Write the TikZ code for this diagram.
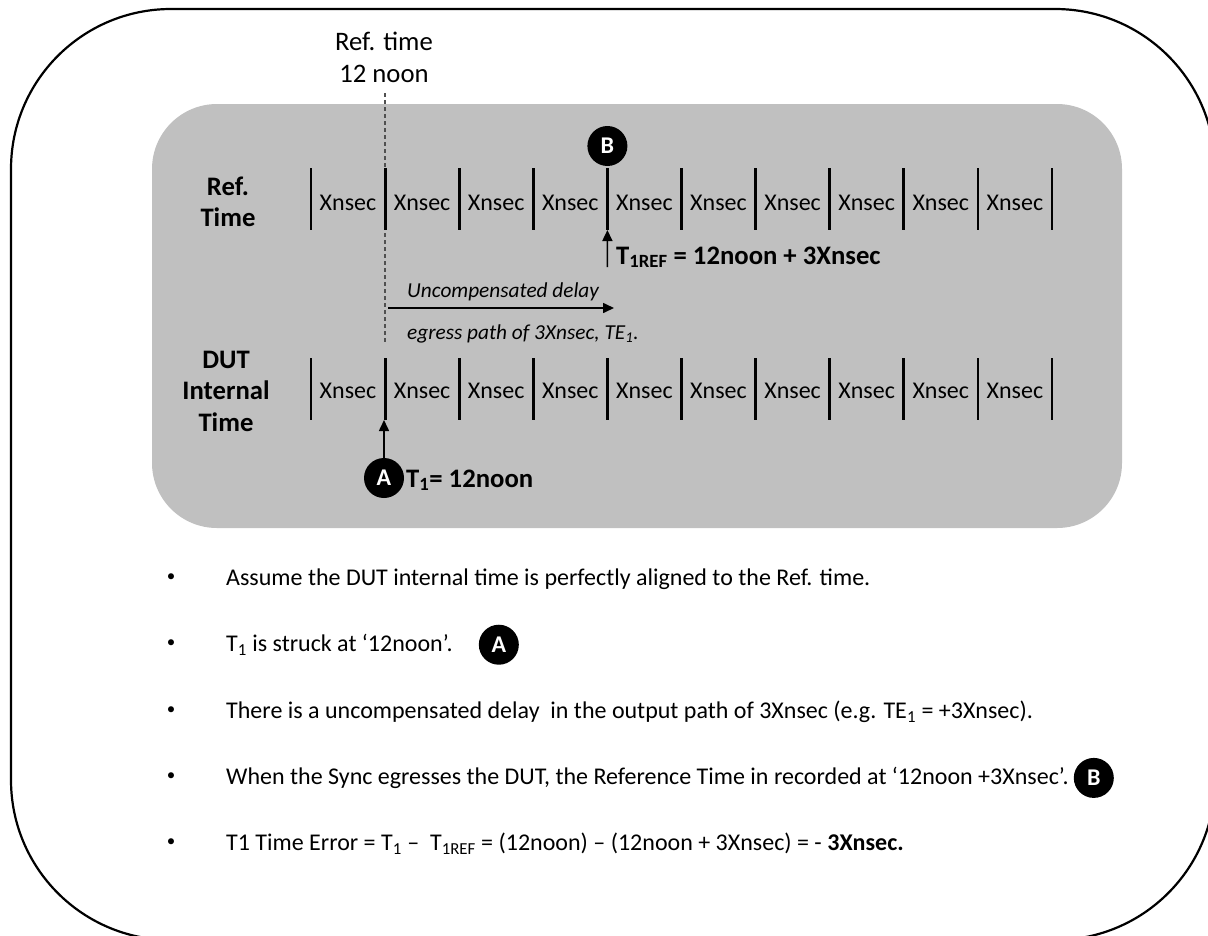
\documentclass[tikz,border=0pt]{standalone}
\usepackage{fontspec}
\setmainfont{Carlito}
\usetikzlibrary{arrows.meta}
\definecolor{panel}{RGB}{192,192,192}
\definecolor{dashgray}{RGB}{80,80,80}
\begin{document}
\begin{tikzpicture}[x=1pt,y=-1pt,
  tickline/.style={line width=2.8pt},
  pointer/.style={line width=1.6pt,-{Triangle[length=11pt,width=10pt]}},
  cell/.style={font=\fontsize{24}{29}\selectfont,inner sep=0pt},
  rowlabel/.style={font=\fontsize{26.7}{31.5}\selectfont\bfseries,align=center,inner sep=0pt},
  biglabel/.style={font=\fontsize{26.7}{32}\selectfont\bfseries,inner sep=0pt,anchor=base west},
  italabel/.style={font=\fontsize{21.3}{26}\selectfont\itshape,inner sep=0pt,anchor=base west},
  bodytext/.style={font=\fontsize{24}{29}\selectfont,inner sep=0pt,anchor=base west},
  bulletmark/.style={font=\fontsize{17}{20}\selectfont,inner sep=0pt},
  badge/.style={circle,fill=black,text=white,font=\fontsize{24}{29}\selectfont\bfseries,minimum size=40pt,inner sep=0pt},
  guide/.style={dashgray,line width=1.1pt,dash pattern=on 4pt off 3pt}]
\useasboundingbox (0,0) rectangle (1208,935);
% outer frame
\begin{scope}
  \clip (0,0) rectangle (1208,935);
  \draw[line width=2.2pt,rounded corners=160pt] (11,9) rectangle (1215,940);
\end{scope}
% grey panel
\fill[panel,rounded corners=65pt] (152,104) rectangle (1122,528);
% top label and guide line
\node[font=\fontsize{26.7}{32}\selectfont,align=center,inner sep=0pt] (reftime) at (384,57) {Ref. time\\12 noon};
\coordinate (gtop) at (385,93);
\coordinate (gbot) at (385,342);
\draw[guide] (gtop) -- (gbot);
% row labels
\node[rowlabel] (reflab) at (228,202) {Ref.\\Time};
\node[rowlabel] (dutlab) at (226,391) {DUT\\Internal\\Time};
% ticks and cells
\foreach \i in {0,...,10}{
  \pgfmathsetmacro{\xx}{311+74.1*\i}
  \coordinate (rt\i) at (\xx,168);
  \coordinate (rb\i) at (\xx,230);
  \coordinate (dt\i) at (\xx,358);
  \coordinate (db\i) at (\xx,420);
  \draw[tickline] (rt\i) -- (rb\i);
  \draw[tickline] (dt\i) -- (db\i);
}
\foreach \i in {0,...,9}{
  \pgfmathsetmacro{\xx}{311+74.1*\i+37}
  \node[cell] (rx\i) at (\xx,203) {Xnsec};
  \node[cell] (dx\i) at (\xx,391) {Xnsec};
}
% B marker and T1REF arrow
\node[badge] (B) at (607.4,146) {B};
\coordinate (t1refend) at (607.4,267);
\draw[pointer] (t1refend) -- (rb4);
\node[biglabel] (t1ref) at (616,264) {T\textsubscript{1REF} = 12noon + 3Xnsec};
% delay arrow
\coordinate (ds) at (388,308);
\coordinate (de) at (614,308);
\draw[pointer] (ds) -- (de);
\node[italabel] (delay1) at (407,297) {Uncompensated delay};
\node[italabel] (delay2) at (407,339) {egress path of 3Xnsec, TE\textsubscript{1}.};
% A marker
\node[badge] (A) at (384,478) {A};
\draw[pointer] (A.north) -- (A.north |- db1);
\node[biglabel] (t1lab) at (406,487) {T\textsubscript{1}= 12noon};
% bullets
\foreach \k/\yy in {1/578,2/644,3/711,4/777,5/843}{
  \node[bulletmark] (dot\k) at (171,\yy) {•};
}
\node[bodytext] (b1) at (226,585.5) {Assume the DUT internal time is perfectly aligned to the Ref. time.};
\node[bodytext] (b2) at (226,651.5) {T\textsubscript{1} is struck at ‘12noon’.};
\node[bodytext] (b3) at (226,718.5) {There is a uncompensated delay\ \ in the output path of 3Xnsec (e.g. TE\textsubscript{1} = +3Xnsec).};
\node[bodytext] (b4) at (226,784.5) {When the Sync egresses the DUT, the Reference Time in recorded at ‘12noon +3Xnsec’.};
\node[bodytext] (b5) at (226,850.5) {T1 Time Error = T\textsubscript{1} –\ \ T\textsubscript{1REF} = (12noon) – (12noon + 3Xnsec) = - \textbf{3Xnsec.}};
\node[badge] (A2) at ([xshift=46pt]b2.east) {A};
\node[badge] (B2) at ([xshift=25pt]b4.east) {B};
\end{tikzpicture}
\end{document}
